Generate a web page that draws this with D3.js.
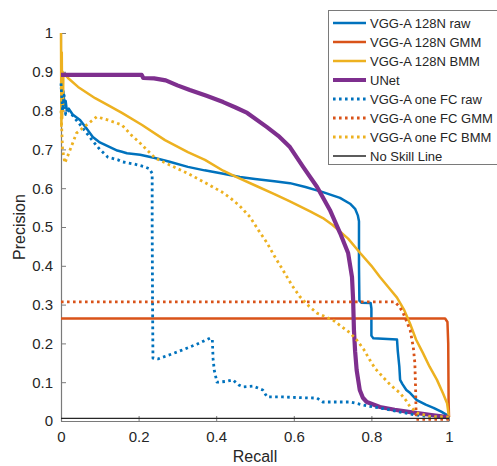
<!DOCTYPE html>
<html>
<head>
<meta charset="utf-8">
<script src="https://cdn.jsdelivr.net/npm/d3@7"></script>
<style>
  html, body { margin: 0; padding: 0; background: #fff; }
  svg { display: block; font-family: "Liberation Sans", Arial, Helvetica, sans-serif; }
</style>
</head>
<body>
<svg id="chart" width="497" height="466"></svg>
<script>
// Precision-recall curves, [recall, precision] pairs
const vggRaw = [[0,0.86],[0.003,0.83],[0.006,0.85],[0.009,0.815],[0.012,0.825],[0.015,0.80],[0.02,0.805],[0.03,0.79],[0.049,0.776],[0.065,0.755],[0.082,0.732],[0.1,0.718],[0.126,0.706],[0.145,0.697],[0.157,0.694],[0.17,0.69],[0.204,0.686],[0.242,0.678],[0.28,0.668],[0.327,0.655],[0.37,0.646],[0.415,0.638],[0.461,0.629],[0.5,0.624],[0.55,0.618],[0.59,0.613],[0.63,0.603],[0.675,0.59],[0.719,0.575],[0.745,0.56],[0.758,0.547],[0.765,0.53],[0.768,0.515],[0.768,0.40],[0.769,0.31],[0.774,0.305],[0.798,0.304],[0.8,0.29],[0.8,0.22],[0.805,0.213],[0.866,0.21],[0.868,0.18],[0.872,0.14],[0.874,0.106],[0.88,0.095],[0.89,0.08],[0.9,0.072],[0.917,0.054],[0.94,0.042],[0.96,0.034],[0.98,0.024],[0.995,0.015],[1,0.01]];
const vggGmm = [[0,0.264],[0.99,0.264],[0.996,0.255],[0.998,0.2],[0.999,0.05],[1,0.01]];
const vggBmm = [[0,1.0],[0.001,0.76],[0.002,0.95],[0.003,0.78],[0.004,0.9],[0.005,0.8],[0.006,0.89],[0.01,0.893],[0.018,0.884],[0.044,0.861],[0.088,0.832],[0.121,0.814],[0.157,0.794],[0.209,0.763],[0.268,0.724],[0.327,0.693],[0.371,0.673],[0.418,0.645],[0.45,0.63],[0.505,0.605],[0.55,0.585],[0.59,0.566],[0.642,0.54],[0.675,0.523],[0.70,0.505],[0.74,0.47],[0.771,0.433],[0.80,0.40],[0.822,0.371],[0.846,0.342],[0.866,0.318],[0.885,0.285],[0.9,0.25],[0.915,0.21],[0.933,0.175],[0.95,0.14],[0.969,0.106],[0.985,0.07],[0.995,0.046],[1,0.01]];
const unet = [[0,0.892],[0.208,0.892],[0.212,0.884],[0.24,0.883],[0.27,0.878],[0.30,0.865],[0.332,0.853],[0.375,0.838],[0.418,0.822],[0.45,0.808],[0.48,0.794],[0.53,0.758],[0.56,0.735],[0.59,0.706],[0.624,0.655],[0.66,0.603],[0.693,0.544],[0.719,0.485],[0.74,0.433],[0.75,0.371],[0.753,0.31],[0.755,0.235],[0.758,0.18],[0.762,0.131],[0.77,0.08],[0.778,0.06],[0.788,0.049],[0.822,0.036],[0.86,0.029],[0.90,0.023],[0.95,0.016],[0.995,0.010],[1,0.008]];
const fcRaw = [[0,0.87],[0.004,0.8],[0.008,0.84],[0.012,0.79],[0.02,0.80],[0.04,0.775],[0.06,0.75],[0.08,0.724],[0.1,0.70],[0.121,0.68],[0.147,0.673],[0.157,0.668],[0.19,0.662],[0.216,0.655],[0.228,0.65],[0.235,0.638],[0.235,0.5],[0.236,0.3],[0.237,0.162],[0.25,0.16],[0.3,0.178],[0.35,0.198],[0.385,0.214],[0.39,0.21],[0.392,0.16],[0.395,0.131],[0.402,0.1],[0.425,0.102],[0.443,0.106],[0.458,0.093],[0.469,0.088],[0.495,0.09],[0.52,0.08],[0.531,0.062],[0.572,0.062],[0.62,0.06],[0.66,0.059],[0.675,0.049],[0.745,0.049],[0.789,0.039],[0.83,0.032],[0.874,0.023],[0.917,0.015],[0.96,0.01],[1,0.006]];
const fcGmm = [[0,0.307],[0.86,0.307],[0.872,0.295],[0.882,0.278],[0.9,0.234],[0.908,0.19],[0.912,0.149],[0.914,0.08],[0.915,0.028],[0.916,0.004],[1,0.004]];
const fcBmm = [[0,0.80],[0.004,0.70],[0.01,0.665],[0.02,0.69],[0.04,0.742],[0.066,0.763],[0.092,0.784],[0.12,0.776],[0.157,0.763],[0.183,0.735],[0.2,0.72],[0.242,0.678],[0.28,0.66],[0.327,0.638],[0.37,0.615],[0.415,0.59],[0.436,0.575],[0.46,0.555],[0.487,0.526],[0.51,0.49],[0.531,0.459],[0.55,0.425],[0.572,0.389],[0.595,0.35],[0.616,0.32],[0.64,0.295],[0.66,0.278],[0.701,0.26],[0.745,0.227],[0.762,0.209],[0.78,0.185],[0.796,0.157],[0.81,0.135],[0.83,0.113],[0.85,0.092],[0.874,0.072],[0.89,0.052],[0.9,0.036],[0.92,0.02],[0.95,0.012],[1,0.01]];
const noSkill = [[0,0.007],[1,0.007]];

const seriesNames = ["VGG-A 128N raw","VGG-A 128N GMM","VGG-A 128N BMM","UNet","VGG-A one FC raw","VGG-A one FC GMM","VGG-A one FC BMM","No Skill Line"];
const xTicks = [0,0.2,0.4,0.6,0.8,1];
const yTicks = [0,0.1,0.2,0.3,0.4,0.5,0.6,0.7,0.8,0.9,1];

const series = [
  {name: seriesNames[0], data: vggRaw, color: "#0072BD", width: 2.5, dash: null},
  {name: seriesNames[1], data: vggGmm, color: "#D95319", width: 2.5, dash: null},
  {name: seriesNames[2], data: vggBmm, color: "#EDB120", width: 2.5, dash: null},
  {name: seriesNames[3], data: unet,   color: "#7E2F8E", width: 4.2, dash: null},
  {name: seriesNames[4], data: fcRaw,  color: "#0072BD", width: 2.8, dash: "2.6,3.4"},
  {name: seriesNames[5], data: fcGmm,  color: "#D95319", width: 2.8, dash: "2.6,3.4"},
  {name: seriesNames[6], data: fcBmm,  color: "#EDB120", width: 2.8, dash: "2.6,3.4"},
  {name: seriesNames[7], data: noSkill, color: "#262626", width: 1.3, dash: null}
];

const svg = d3.select("#chart");
const x = d3.scaleLinear().domain([0, 1]).range([61, 449]);
const y = d3.scaleLinear().domain([0, 1]).range([421, 33]);
const axisColor = "#262626";

// Axes with inward ticks (left and bottom only)
const gx = svg.append("g").attr("transform", "translate(0,421)")
  .call(d3.axisBottom(x).tickValues(xTicks).tickFormat(d3.format("~g")).tickSizeInner(-5).tickSizeOuter(0).tickPadding(10));
const gy = svg.append("g").attr("transform", "translate(61,0)")
  .call(d3.axisLeft(y).tickValues(yTicks).tickFormat(d3.format("~g")).tickSizeInner(-5).tickSizeOuter(0).tickPadding(8));
[gx, gy].forEach(g => {
  g.select(".domain").attr("stroke", "#7a7a7a").attr("stroke-width", 1.2);
  g.selectAll(".tick line").attr("stroke", "#7a7a7a");
  g.selectAll(".tick text").attr("fill", axisColor).style("font-size", "15px")
    .style("font-family", "'Liberation Sans', Arial, sans-serif");
});

// Axis titles
svg.append("text").attr("x", 255).attr("y", 466 - 4).attr("text-anchor", "middle")
  .attr("fill", axisColor).style("font-size", "16px").text("Recall");
svg.append("text").attr("transform", "translate(25,227) rotate(-90)").attr("text-anchor", "middle")
  .attr("fill", axisColor).style("font-size", "16px").text("Precision");

// Curves
const line = d3.line().x(d => x(d[0])).y(d => y(d[1]));
const plot = svg.append("g");
series.forEach(s => {
  plot.append("path").datum(s.data).attr("d", line)
    .attr("fill", "none").attr("stroke", s.color).attr("stroke-width", s.width)
    .attr("stroke-linejoin", "round")
    .attr("stroke-dasharray", s.dash);
});

// Legend
const lg = svg.append("g");
lg.append("rect").attr("x", 328.5).attr("y", 10.5).attr("width", 180).attr("height", 154)
  .attr("fill", "#fff").attr("stroke", "#7a7a7a").attr("stroke-width", 1);
series.forEach((s, i) => {
  const yy = 23 + i * 19;
  lg.append("line").attr("x1", 333).attr("x2", 366).attr("y1", yy).attr("y2", yy)
    .attr("stroke", s.color).attr("stroke-width", s.width).attr("stroke-dasharray", s.dash);
  lg.append("text").attr("x", 370).attr("y", yy + 4.5).attr("fill", axisColor)
    .style("font-size", "13px").text(s.name);
});
</script>
</body>
</html>
